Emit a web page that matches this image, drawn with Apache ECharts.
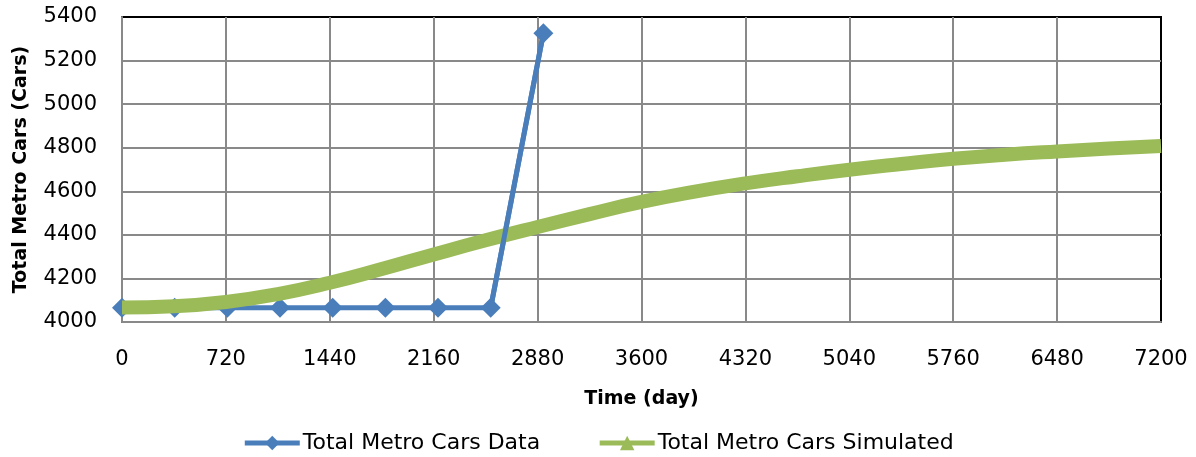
<!DOCTYPE html>
<html>
<head>
<meta charset="utf-8">
<style>
  html, body { margin: 0; padding: 0; background: #fff; }
  #chart { width: 1196px; height: 457px; }
</style>
<script src="https://cdn.jsdelivr.net/npm/echarts@6/dist/echarts.min.js"></script>
</head>
<body>
<div id="chart"></div>
<script>
// Observed yearly counts of metro cars (day, cars)
const dataDays = [0, 365, 730, 1095, 1460, 1825, 2190, 2555, 2920];
const dataCars = [4065, 4065, 4065, 4065, 4065, 4065, 4065, 4065, 5325];

// Simulated total metro cars (day, cars)
const simDays = [0, 360, 720, 1080, 1440, 1800, 2160, 2520, 2880, 3240, 3600,
                 3960, 4320, 4680, 5040, 5400, 5760, 6120, 6480, 6840, 7200];
const simCars = [4066, 4072, 4092, 4128, 4180, 4243, 4310, 4375, 4436, 4495, 4551,
                 4597, 4636, 4669, 4699, 4725, 4749, 4768, 4783, 4796, 4808];

// Axis ticks
const xTicks = [0, 720, 1440, 2160, 2880, 3600, 4320, 5040, 5760, 6480, 7200];
const yTicks = [4000, 4200, 4400, 4600, 4800, 5000, 5200, 5400];

const FONT = 'DejaVu Sans';
const BLUE = '#4A7EBB';
const GREEN = '#9BBB59';
const GRID_GRAY = '#898989';

const pairs = (xs, ys) => xs.map((x, i) => [x, ys[i]]);
const dataPts = pairs(dataDays, dataCars);
const simPts = pairs(simDays, simCars);

const plain = v => String(v);

const chart = echarts.init(document.getElementById('chart'), null, { renderer: 'canvas' });

chart.setOption({
  animation: false,
  backgroundColor: '#ffffff',
  textStyle: { fontFamily: FONT, color: '#000' },
  grid: {
    left: 122, right: 35, top: 17, bottom: 135,
    show: true, borderColor: '#000', borderWidth: 2, backgroundColor: 'transparent'
  },
  legend: {
    left: 'center', top: 427,
    itemWidth: 55, itemHeight: 18, itemGap: 57,
    textStyle: { fontFamily: FONT, fontSize: 22, color: '#000', padding: [0, 0, 0, -2] },
    data: [
      { name: 'Total Metro Cars Data', lineStyle: { width: 5 } },
      { name: 'Total Metro Cars Simulated', lineStyle: { width: 5 } }
    ]
  },
  xAxis: {
    type: 'value',
    min: xTicks[0], max: xTicks[xTicks.length - 1], interval: xTicks[1] - xTicks[0],
    name: 'Time (day)', nameLocation: 'middle', nameGap: 68,
    nameTextStyle: { fontFamily: FONT, fontSize: 19, fontWeight: 'bold', color: '#000' },
    axisLine: { show: true, lineStyle: { color: GRID_GRAY, width: 2 } },
    axisTick: { show: false },
    axisLabel: { margin: 27, fontFamily: FONT, fontSize: 21, color: '#000', formatter: plain },
    splitLine: { show: true, showMinLine: false, showMaxLine: false,
                 lineStyle: { color: GRID_GRAY, width: 2 } }
  },
  yAxis: {
    type: 'value',
    min: yTicks[0], max: yTicks[yTicks.length - 1], interval: yTicks[1] - yTicks[0],
    name: 'Total Metro Cars (Cars)', nameLocation: 'middle', nameGap: 91,
    nameTextStyle: { fontFamily: FONT, fontSize: 19, fontWeight: 'bold', color: '#000' },
    axisLine: { show: true, lineStyle: { color: GRID_GRAY, width: 2 } },
    axisTick: { show: false },
    axisLabel: { margin: 25, fontFamily: FONT, fontSize: 21, color: '#000', formatter: plain },
    splitLine: { show: true, showMinLine: false, showMaxLine: false,
                 lineStyle: { color: GRID_GRAY, width: 2 } }
  },
  series: [
    {
      name: 'Total Metro Cars Data',
      type: 'line',
      data: dataPts,
      z: 2,
      clip: false,
      symbol: 'diamond',
      symbolSize: 20,
      showAllSymbol: true,
      lineStyle: { color: BLUE, width: 5 },
      itemStyle: { color: BLUE }
    },
    {
      name: 'Total Metro Cars Simulated',
      type: 'line',
      data: simPts,
      z: 3,
      smooth: true,
      symbol: 'triangle',
      showSymbol: false,
      lineStyle: { color: GREEN, width: 14, cap: 'butt' },
      itemStyle: { color: GREEN }
    },
    {
      // final jump of the observed series, drawn above the simulated curve
      name: 'Total Metro Cars Data (jump)',
      type: 'line',
      data: dataPts.slice(-2),
      z: 4,
      symbol: 'none',
      silent: true,
      lineStyle: { color: BLUE, width: 5 }
    }
  ]
});
</script>
</body>
</html>
